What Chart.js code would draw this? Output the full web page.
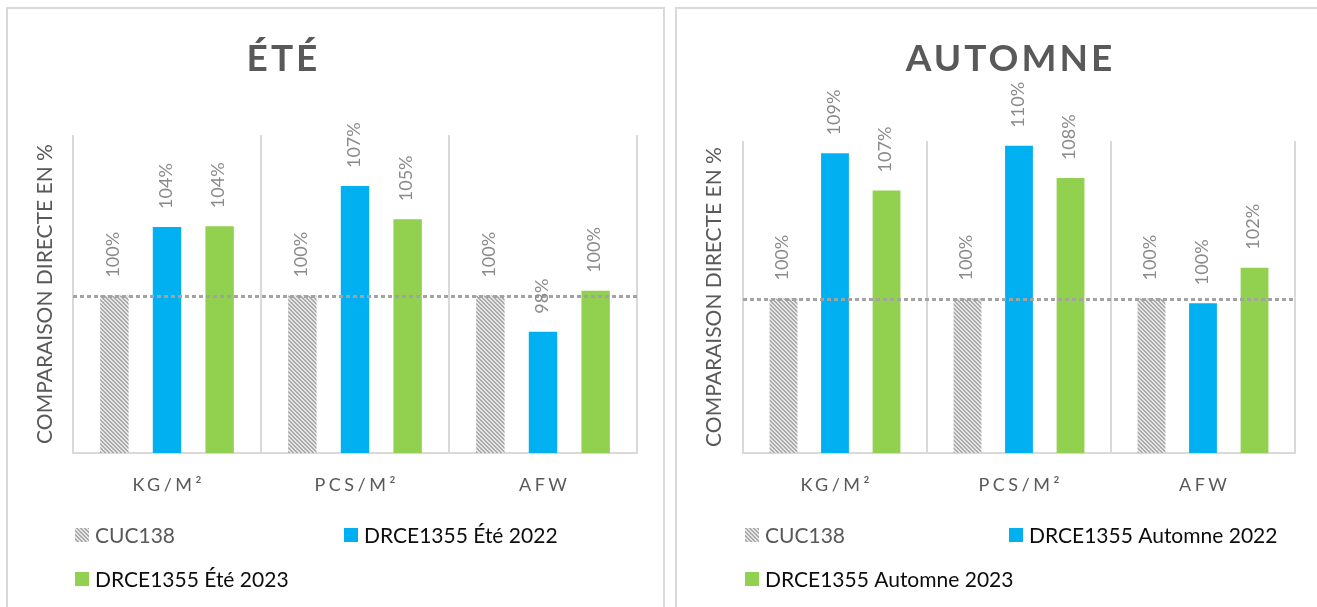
<!DOCTYPE html>
<html><head><meta charset="utf-8">
<script src="https://cdn.jsdelivr.net/npm/chart.js@4.4.0/dist/chart.umd.min.js"></script>
<style>
html,body{margin:0;padding:0;background:#fff;overflow:hidden;}
body{width:1317px;height:607px;position:relative;}
.panel{position:absolute;border:2px solid #d9d9d9;box-sizing:border-box;}
#p1{left:6px;top:7px;width:659px;height:640px;}
#p2{left:675px;top:7px;width:700px;height:640px;}
canvas{position:absolute;top:0;}
#c1{left:0;}
#c2{left:669px;}
</style></head>
<body>
<div class="panel" id="p1"></div>
<div class="panel" id="p2"></div>
<canvas id="c1" width="669" height="607"></canvas>
<canvas id="c2" width="648" height="607"></canvas>
<script>
// ---- data ----
const categories = ['KG/M²', 'PCS/M²', 'AFW'];
const seriesEte = ['CUC138', 'DRCE1355 Été 2022', 'DRCE1355 Été 2023'];
const seriesAut = ['CUC138', 'DRCE1355 Automne 2022', 'DRCE1355 Automne 2023'];
const eteCUC138 = [100, 100, 100];
const ete2022 = [104.36, 106.96, 97.7];
const ete2023 = [104.41, 104.85, 100.3];
const autCUC138 = [100, 100, 100];
const aut2022 = [109.4, 109.9, 99.7];
const aut2023 = [107.0, 107.8, 102.0];
const referenceLevel = 100;
const yMin = 90;
const yMax = 110.2;
const axisTitle = 'COMPARAISON DIRECTE EN %';
const titleEte = 'ÉTÉ';
const titleAut = 'AUTOMNE';

const BLUE = '#00B0F0', GREEN = '#92D050', TEXT = '#595959';

function makeHatch(){
  const c = document.createElement('canvas'); c.width = 4; c.height = 4;
  const x = c.getContext('2d');
  x.fillStyle = '#e6e6e6'; x.fillRect(0,0,4,4);
  x.fillStyle = '#aaaaaa';
  for (let i=0;i<4;i++) for (let j=0;j<4;j++){ if ((((i-j)%4)+4)%4 < 2) x.fillRect(i,j,1,1); }
  return x.createPattern(c,'repeat');
}

function spacedText(ctx, text, x, y, spacing){
  ctx.letterSpacing = spacing + 'px';
  ctx.fillText(text, x + spacing/2, y);
  ctx.letterSpacing = '0px';
}

const extras = {
  id: 'extras',
  afterDatasetsDraw(chart, args, o){
    const ctx = chart.ctx, ca = chart.chartArea, ys = chart.scales.y;
    // reference line
    ctx.save();
    ctx.strokeStyle = '#a3a3a3'; ctx.lineWidth = 3; ctx.lineCap = 'butt'; ctx.setLineDash([4, 3]);
    const yp = Math.round(ys.getPixelForValue(referenceLevel)) + 0.5;
    ctx.beginPath(); ctx.moveTo(ca.left, yp); ctx.lineTo(ca.right, yp); ctx.stroke();
    ctx.restore();
    // data labels
    ctx.save();
    ctx.font = '18px Lato'; ctx.fillStyle = '#8a8a8a';
    ctx.textAlign = 'left'; ctx.textBaseline = 'middle';
    chart.data.datasets.forEach((ds, di) => {
      chart.getDatasetMeta(di).data.forEach((bar, i) => {
        ctx.save(); ctx.translate(bar.x - 1, bar.y - 18); ctx.rotate(-Math.PI/2);
        ctx.fillText(Math.round(ds.data[i]) + '%', 0, 0);
        ctx.restore();
      });
    });
    ctx.restore();
  },
  afterDraw(chart, args, o){
    const ctx = chart.ctx, ca = chart.chartArea, xs = chart.scales.x;
    ctx.save();
    // title
    ctx.font = 'bold 37px Lato'; ctx.fillStyle = TEXT;
    ctx.textAlign = 'center'; ctx.textBaseline = 'middle';
    spacedText(ctx, o.title, o.titleX, o.titleY, 3);
    // category labels
    ctx.font = '18px Lato'; ctx.fillStyle = TEXT;
    chart.data.labels.forEach((lab, i) => {
      spacedText(ctx, lab, xs.getPixelForValue(i), o.catY, 3.5);
    });
    // legend
    ctx.font = '21px Lato'; ctx.textAlign = 'left';
    const pos = [[0,0],[1,0],[0,1]];
    chart.data.datasets.forEach((ds, di) => {
      const lx = ca.left + o.legendCols[pos[di][0]];
      const ly = o.legendRows[pos[di][1]];
      ctx.fillStyle = ds.backgroundColor;
      ctx.fillRect(lx, ly - 7, 14, 14);
      ctx.fillStyle = o.legendColors[di];
      ctx.fillText(ds.label, lx + 20, ly + 1);
    });
    ctx.restore();
  }
};

function build(canvasId, names, s0, s1, s2, title, titleX, padLeftWidth, padRight, padTop, col2){
  const ctx = document.getElementById(canvasId).getContext('2d');
  const hatch = makeHatch();
  const common = {categoryPercentage: 0.84, barPercentage: 0.54};
  return new Chart(ctx, {
    type: 'bar',
    data: {
      labels: categories,
      datasets: [
        Object.assign({label: names[0], data: s0, backgroundColor: hatch}, common),
        Object.assign({label: names[1], data: s1, backgroundColor: BLUE}, common),
        Object.assign({label: names[2], data: s2, backgroundColor: GREEN}, common)
      ]
    },
    options: {
      responsive: false, animation: false,
      layout: {padding: {left: 0, top: padTop, right: padRight, bottom: 154}},
      plugins: {
        legend: {display: false}, tooltip: {enabled: false}, title: {display: false},
        extras: {title: title, titleX: titleX, titleY: 59, catY: 485,
          legendCols: [2, col2], legendRows: [535, 579],
          legendColors: ['#595959', '#0d0d0d', '#0d0d0d']}
      },
      scales: {
        x: {
          grid: {offset: true, color: '#d9d9d9', lineWidth: 2, drawTicks: false},
          border: {color: '#d9d9d9', width: 2},
          ticks: {display: false},
          afterFit(s){ s.height = 0; }
        },
        y: {
          min: yMin, max: yMax,
          grid: {display: false}, border: {display: false}, ticks: {display: false},
          title: {display: true, text: axisTitle, color: TEXT,
            font: {family: 'Lato', size: 21, weight: 400}, padding: {top: 33, bottom: 0}},
          afterFit(s){ s.width = padLeftWidth; }
        }
      }
    },
    plugins: [extras]
  });
}

build('c1', seriesEte, eteCUC138, ete2022, ete2023, titleEte, 282, 73, 32, 135, 271);
build('c2', seriesAut, autCUC138, aut2022, aut2023, titleAut, 340, 74, 22, 141, 266);
</script>
</body></html>
